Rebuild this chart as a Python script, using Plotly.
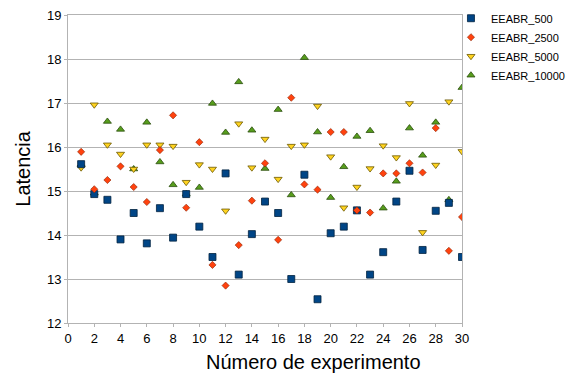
import plotly.graph_objects as go

experimentos = list(range(1, 31))

eeabr_500 = [15.61, 14.93, 14.80, 13.90, 14.50, 13.81, 14.61, 13.94, 14.93, 14.19,
             13.50, 15.40, 13.10, 14.02, 14.76, 14.50, 13.00, 15.37, 12.54, 14.04,
             14.19, 14.56, 13.10, 13.61, 14.76, 15.46, 13.66, 14.55, 14.73, 13.50]

eeabr_2500 = [15.89, 15.04, 15.25, 15.56, 15.09, 14.75, 15.93, 16.72, 14.62, 16.11,
              13.32, 12.85, 13.77, 14.78, 15.63, 13.89, 17.12, 15.15, 15.03, 16.34,
              16.34, 14.56, 14.51, 15.40, 15.40, 15.63, 15.42, 16.43, 13.64, 14.41]

eeabr_5000 = [15.53, 16.96, 16.05, 15.84, 15.50, 16.05, 16.05, 16.02, 15.20, 15.60,
              15.50, 14.55, 16.53, 15.53, 16.18, 15.27, 16.02, 16.05, 16.93, 15.78,
              14.62, 15.09, 15.51, 16.03, 15.76, 16.99, 14.06, 15.59, 17.03, 15.90]

eeabr_10000 = [15.60, 14.95, 16.58, 16.40, 15.50, 16.56, 15.66, 15.14, 14.93, 15.08,
               16.99, 16.33, 17.48, 16.38, 15.51, 16.85, 14.91, 18.03, 16.34, 14.85,
               15.55, 16.24, 16.37, 14.61, 15.22, 16.43, 15.81, 16.56, 14.80, 17.35]

x_ticks = list(range(0, 31, 2))
y_ticks = list(range(12, 20))

FONT = "Liberation Sans, Arial, sans-serif"

fig = go.Figure()

# draw order (bottom to top): 10000, 5000, 500, 2500 ; legend order via legendrank
fig.add_trace(go.Scatter(
    x=experimentos, y=eeabr_10000, mode="markers", name="EEABR_10000", legendrank=4,
    marker=dict(symbol="triangle-up", size=7, color="#579d1c",
                line=dict(color="#2b4e0e", width=0.8))))
fig.add_trace(go.Scatter(
    x=experimentos, y=eeabr_5000, mode="markers", name="EEABR_5000", legendrank=3,
    marker=dict(symbol="triangle-down", size=7, color="#ffd320",
                line=dict(color="#6b5800", width=0.8))))
fig.add_trace(go.Scatter(
    x=experimentos, y=eeabr_500, mode="markers", name="EEABR_500", legendrank=1,
    marker=dict(symbol="square", size=7, color="#004586",
                line=dict(color="#00223f", width=0.8))))
fig.add_trace(go.Scatter(
    x=experimentos, y=eeabr_2500, mode="markers", name="EEABR_2500", legendrank=2,
    marker=dict(symbol="diamond", size=5.5, color="#ff420e",
                line=dict(color="#8a2000", width=0.6))))

axis_common = dict(
    showline=True, linecolor="#b3b3b3", linewidth=1, mirror=True,
    ticks="outside", ticklen=3, tickcolor="#b3b3b3", tickwidth=1,
    tickfont=dict(family=FONT, size=13, color="#000000"),
    zeroline=False,
)

fig.update_xaxes(range=[0, 30], tickvals=x_ticks, showgrid=False, **axis_common)
fig.update_yaxes(range=[12, 19], tickvals=y_ticks, showgrid=True,
                 gridcolor="#b3b3b3", gridwidth=1, **axis_common)

fig.add_annotation(text="Número de experimento", xref="paper", yref="paper",
                   x=0.622, y=-0.127, xanchor="center", yanchor="middle",
                   showarrow=False, font=dict(family=FONT, size=20, color="#000000"))
fig.add_annotation(text="Latencia", xref="paper", yref="paper",
                   x=-0.115, y=0.5, xanchor="center", yanchor="middle", textangle=-90,
                   showarrow=False, font=dict(family=FONT, size=20, color="#000000"))

fig.update_layout(
    width=572, height=379,
    margin=dict(l=68, r=110, t=15, b=56, autoexpand=False),
    plot_bgcolor="#ffffff", paper_bgcolor="#ffffff",
    font=dict(family=FONT, color="#000000"),
    legend=dict(x=0.972, y=0.897, xanchor="left", yanchor="middle",
                font=dict(family=FONT, size=11, color="#000000"),
                bgcolor="rgba(0,0,0,0)", tracegroupgap=0),
    showlegend=True,
)

fig.write_html("out.html")
